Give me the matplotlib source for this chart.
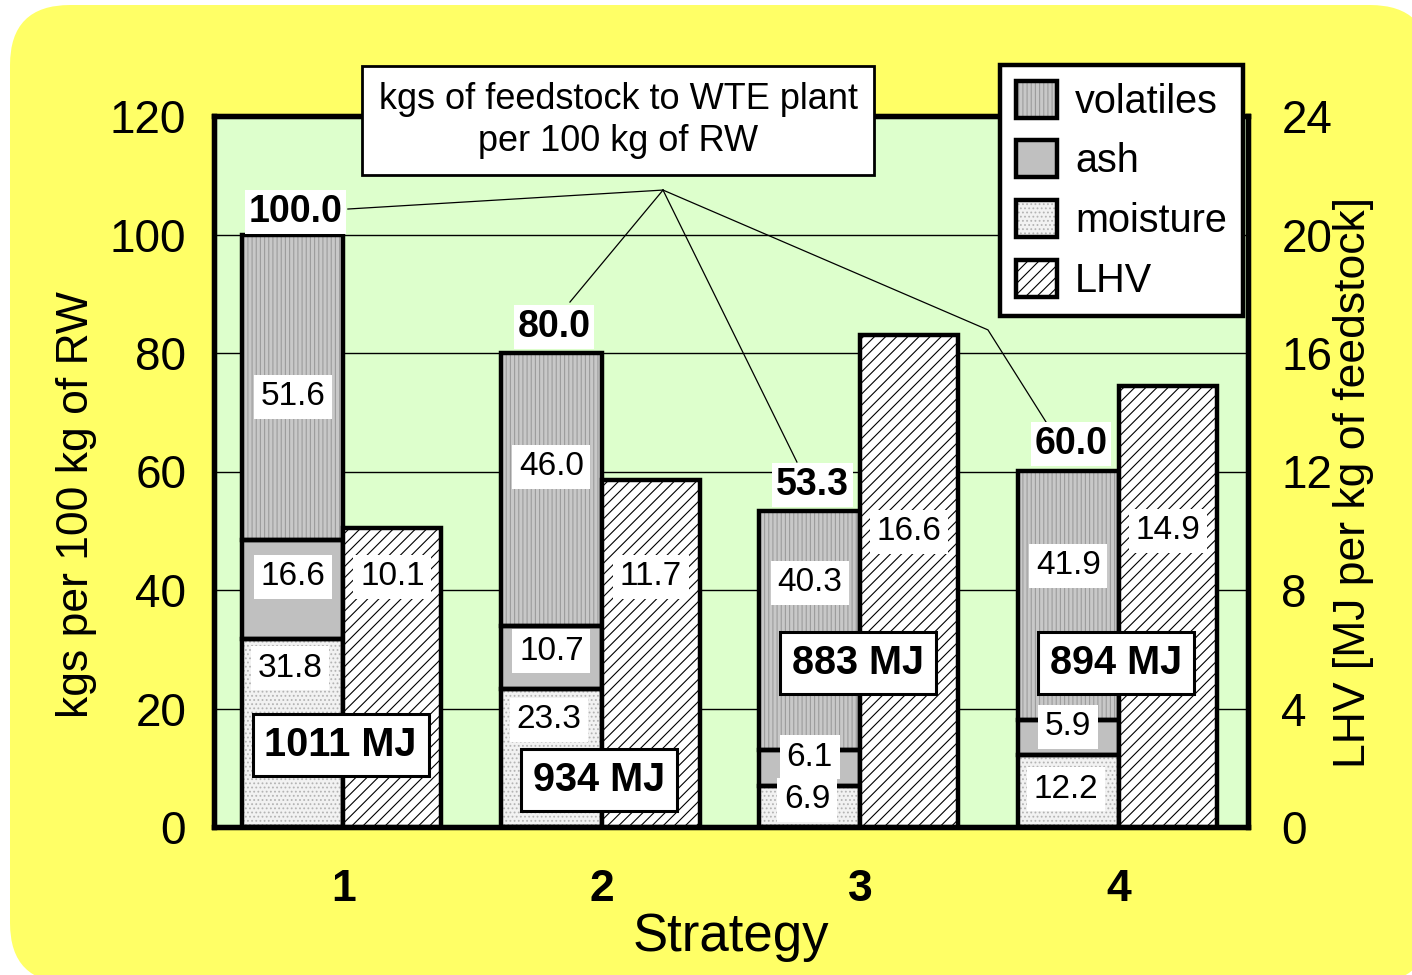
import matplotlib
matplotlib.use('Agg')
import matplotlib.pyplot as plt
from matplotlib.patches import FancyBboxPatch, Patch
from matplotlib.transforms import IdentityTransform
import numpy as np

# feedstock composition, kg per 100 kg of RW
strategies = [1, 2, 3, 4]
moisture = [31.8, 23.3, 6.9, 12.2]
ash = [16.6, 10.7, 6.1, 5.9]
volatiles = [51.6, 46.0, 40.3, 41.9]
# lower heating value, MJ per kg of feedstock
lhv = [10.1, 11.7, 16.6, 14.9]
# energy to the WTE plant, MJ
energy = [1011, 934, 883, 894]

# where the value labels sit (left-axis units)
vol_lab_y = [72.6, 60.8, 41.2, 44.1]
ash_lab_y = [42.2, 29.7, 11.8, 16.9]
moist_lab_y = [26.8, 18.1, 4.6, 6.4]
lhv_lab_y = [42.2, 42.2, 49.8, 50.0]
mj_lab_y = [13.8, 7.9, 27.7, 27.7]
tot_lab_y = [103.8, 84.4, 57.7, 64.6]

plt.rcParams['font.family'] = 'Liberation Sans'
plt.rcParams['hatch.linewidth'] = 0.8

YELLOW = '#ffff66'
GREEN = '#ddffcc'
styles = {
    'volatiles': dict(facecolor='#c8c8c8', hatch='||||', edgecolor='#9c9c9c'),
    'ash': dict(facecolor='#c0c0c0', hatch=None, edgecolor='#c0c0c0'),
    'moisture': dict(facecolor='#f2f2f2', hatch='....', edgecolor='#b4b4b4'),
    'LHV': dict(facecolor='white', hatch='///', edgecolor='black'),
}

fig = plt.figure(figsize=(14.12, 9.75), dpi=100)
fig.patch.set_facecolor('white')
bg = FancyBboxPatch((10, -8), 1420, 978, boxstyle='round,pad=0,rounding_size=60',
                    facecolor=YELLOW, edgecolor='none', transform=IdentityTransform(), zorder=-5)
fig.add_artist(bg)

ax = fig.add_axes([214 / 1412, 148 / 975, 1034 / 1412, 711 / 975])
ax.set_facecolor(GREEN)
ax2 = ax.twinx()

x = np.array(strategies, dtype=float)
w_stack = 0.39
w_lhv = 0.38
lw_bar = 3.2


def hatched_bar(axis, xs, h, b, width, style):
    axis.bar(xs, h, width, bottom=b, align='edge', linewidth=0, zorder=2, **style)
    axis.bar(xs, h, width, bottom=b, align='edge', fill=False, edgecolor='black',
             linewidth=lw_bar, zorder=3)


bottom = np.zeros(len(x))
for name, vals in [('moisture', moisture), ('ash', ash), ('volatiles', volatiles)]:
    hatched_bar(ax, x, vals, bottom, -w_stack, styles[name])
    bottom += np.array(vals)
totals = bottom

hatched_bar(ax2, x, lhv, 0, w_lhv, styles['LHV'])

ax.set_xlim(0.5, 4.5)
ax.set_ylim(0, 120)
ax2.set_ylim(0, 24)
ax.set_yticks(np.arange(0, 121, 20))
ax2.set_yticks(np.arange(0, 25, 4))
ax.set_xticks(x)
ax.set_xticklabels([str(s) for s in strategies], fontweight='bold')
ax.grid(axis='y', color='black', linewidth=1.0, zorder=1)
ax.set_axisbelow(True)

ax.tick_params(axis='y', length=0, labelsize=33, pad=20)
ax.tick_params(axis='x', length=0, labelsize=32, pad=30)
ax2.tick_params(axis='y', length=0, labelsize=33, pad=24)
for a in (ax, ax2):
    for s in a.spines.values():
        s.set_linewidth(3.8)
ax.set_xlabel('Strategy', fontsize=38, labelpad=2)
ax.set_ylabel('kgs per 100 kg of RW', fontsize=32)
ax.yaxis.set_label_coords(-0.113, 0.454)
ax2.set_ylabel('LHV [MJ per kg of feedstock]', fontsize=32)
ax2.yaxis.set_label_coords(1.082, 0.485)

# value labels, drawn on the front axes so they sit above every bar
tr = ax.transData
plain = dict(facecolor='white', edgecolor='none', boxstyle='square,pad=0.2')
for i, xi in enumerate(x):
    cx = xi - w_stack / 2
    ax2.text(cx, vol_lab_y[i], f'{volatiles[i]:.1f}', transform=tr, fontsize=24,
             ha='center', va='center', bbox=plain, zorder=6)
    ax2.text(cx, ash_lab_y[i], f'{ash[i]:.1f}', transform=tr, fontsize=24,
             ha='center', va='center', bbox=plain, zorder=6)
    ax2.text(cx - 0.01, moist_lab_y[i], f'{moisture[i]:.1f}', transform=tr, fontsize=24,
             ha='center', va='center', bbox=plain, zorder=6)
    ax2.text(xi + w_lhv / 2, lhv_lab_y[i], f'{lhv[i]:.1f}', transform=tr, fontsize=24,
             ha='center', va='center', bbox=plain, zorder=6)
    ax2.text(cx + 0.01, tot_lab_y[i], f'{totals[i]:.1f}', transform=tr, fontsize=27,
             fontweight='bold', ha='center', va='center',
             bbox=dict(facecolor='white', edgecolor='none', boxstyle='square,pad=0.1'), zorder=6)
    ax2.text(xi - 0.01, mj_lab_y[i], f'{energy[i]} MJ', transform=tr, fontsize=28.5,
             fontweight='bold', ha='center', va='center',
             bbox=dict(facecolor='white', edgecolor='black', linewidth=2.2,
                       boxstyle='square,pad=0.3'), zorder=6)

# callout with leader lines to the totals
hub = (2.237, 107.5)
leaders = [[(1.018, 104.3)], [(1.877, 88.6)], [(2.755, 61.6)], [(3.494, 83.9), (3.734, 67.3)]]
for pts in leaders:
    xs = [hub[0]] + [p[0] for p in pts]
    ys = [hub[1]] + [p[1] for p in pts]
    ax2.plot(xs, ys, color='black', linewidth=0.9, transform=tr, zorder=5)
ax2.text(2.063, 119.2, 'kgs of feedstock to WTE plant\nper 100 kg of RW', transform=tr,
         fontsize=26, ha='center', va='center', linespacing=1.25, clip_on=False,
         bbox=dict(facecolor='white', edgecolor='black', linewidth=2.0,
                   boxstyle='square,pad=0.45'), zorder=7)

handles = []
for name in ['volatiles', 'ash', 'moisture', 'LHV']:
    fill = Patch(linewidth=0, **styles[name])
    edge = Patch(fill=False, edgecolor='black', linewidth=lw_bar)
    handles.append((fill, edge))
leg = ax2.legend(handles, ['volatiles', 'ash', 'moisture', 'LHV'], loc='upper left',
                 bbox_to_anchor=(1000 / 1412, 1 - 65 / 975), bbox_transform=fig.transFigure,
                 fontsize=28.5, handlelength=1.05, handleheight=1.05, labelspacing=0.5,
                 handletextpad=0.45, borderpad=0.4, borderaxespad=0, fancybox=False,
                 framealpha=1, edgecolor='black')
leg.get_frame().set_linewidth(3.2)
leg.set_zorder(8)

fig.savefig('out.png', dpi=100, facecolor='white')
